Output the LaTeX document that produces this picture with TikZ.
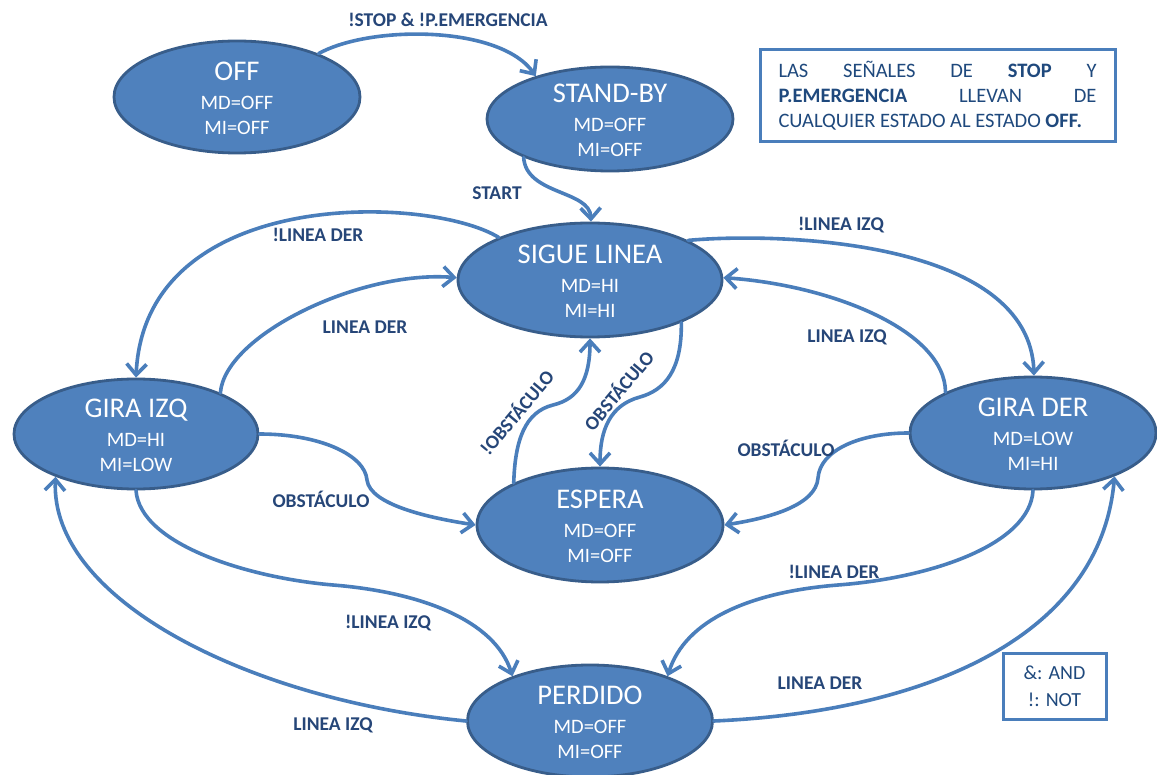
\documentclass[tikz,border=0pt]{standalone}
\usepackage{fontspec}
\setmainfont{Carlito}
\usetikzlibrary{shapes.geometric,arrows.meta}
\definecolor{nodefill}{RGB}{79,129,189}
\definecolor{nodeedge}{RGB}{56,93,138}
\definecolor{wire}{RGB}{74,126,187}
\definecolor{lbltext}{RGB}{38,70,120}
\definecolor{boxtext}{RGB}{31,73,125}
% state body: big title plus the two motor lines, smashed so the ellipse keeps its size
\newcommand\statebody[3]{\smash{\raisebox{-10pt}{\begin{tabular}{@{}c@{}}{\fontsize{28.5}{30}\selectfont #1}\\[3.5pt] #2\\ #3\end{tabular}}}}
\begin{document}
\begin{tikzpicture}[x=1pt,y=-1pt,
  state/.style={ellipse, draw=nodeedge, line width=2.8pt, fill=nodefill, text=white,
    inner sep=0pt, minimum width=246pt, minimum height=112pt,
    font=\fontsize{20.5}{25}\selectfont},
  trans/.style={draw=wire, line width=3.6pt, line cap=round,
    -{Straight Barb[length=11pt,width=20pt]}},
  lbl/.style={text=lbltext, font=\fontsize{19.5}{22}\selectfont\bfseries, inner sep=1pt},
  rotlbl/.style={lbl, rotate=50},
  infobox/.style={draw=wire, line width=3pt, text=boxtext, inner sep=0pt},
]
\useasboundingbox[fill=white] (0,0) rectangle (1157,775);

% states
\node[state] (off)      at (237,97)  {\statebody{OFF}{MD=OFF}{MI=OFF}};
\node[state, minimum height=104pt] (standby) at (610,119) {\statebody{STAND-BY}{MD=OFF}{MI=OFF}};
\node[state, minimum width=264pt, minimum height=114pt] (sigue) at (590,280) {\statebody{SIGUE LINEA}{MD=HI}{MI=HI}};
\node[state, minimum width=244pt, minimum height=110pt] (giraizq) at (136,434) {\statebody{GIRA IZQ}{MD=HI}{MI=LOW}};
\node[state] (girader)  at (1033,433) {\statebody{GIRA DER}{MD=LOW}{MI=HI}};
\node[state, minimum height=114pt] (espera) at (600,525) {\statebody{ESPERA}{MD=OFF}{MI=OFF}};
\node[state, minimum width=245pt] (perdido) at (590,721) {\statebody{PERDIDO}{MD=OFF}{MI=OFF}};

% transitions
\draw[trans] (off.28) .. controls (370,25) and (500,25) .. (standby.150);
\draw[trans] (standby.204) .. controls (526,195) and (590,190) .. (sigue.89);
\draw[trans] (sigue.155) .. controls (430,195) and (145,185) .. (giraizq.90);
\draw[trans] (giraizq.26) .. controls (225,335) and (360,270) .. (sigue.179);
\draw[trans] (sigue.22) .. controls (780,232) and (1030,240) .. (girader.89);
\draw[trans] (girader.155) .. controls (945,330) and (830,285) .. (sigue.1);
\draw[trans] (giraizq.0) .. controls (320,434) and (365,455) .. (367,480)
  .. controls (370,505) and (430,518) .. (espera.180);
\draw[trans] (girader.180) .. controls (860,433) and (820,450) .. (818,478)
  .. controls (816,505) and (770,518) .. (espera.0);
\draw[trans] (sigue.-25) .. controls (682,370) and (665,390) .. (640,397)
  .. controls (610,405) and (600,430) .. (espera.90);
\draw[trans] (espera.154) .. controls (515,440) and (525,412) .. (553,405)
  .. controls (578,399) and (590,380) .. (sigue.270);
\draw[trans] (giraizq.270) .. controls (140,545) and (250,578) .. (333,585)
  .. controls (420,592) and (495,620) .. (perdido.150);
\draw[trans] (girader.270) .. controls (1030,545) and (930,578) .. (838,585)
  .. controls (750,592) and (685,620) .. (perdido.30);
\draw[trans] (perdido.180) .. controls (250,700) and (50,600) .. (giraizq.208);
\draw[trans] (perdido.0) .. controls (920,712) and (1100,640) .. (girader.332);

% transition labels
\node[lbl] (l-arm)    at (448,20)  {!STOP \& !P.EMERGENCIA};
\node[lbl] (l-start)  at (497,193) {START};
\node[lbl] (l-nld1)   at (318,235) {!LINEA DER};
\node[lbl] (l-ld1)    at (365,327) {LINEA DER};
\node[lbl] (l-nli1)   at (841,225) {!LINEA IZQ};
\node[lbl] (l-li1)    at (847,337) {LINEA IZQ};
\node[lbl] (l-obs1)   at (321,499) {OBSTÁCULO};
\node[lbl] (l-obs2)   at (786,448) {OBSTÁCULO};
\node[rotlbl] (l-obs3) at (618,390) {OBSTÁCULO};
\node[rotlbl] (l-nobs) at (516,412) {!OBSTÁCULO};
\node[lbl] (l-nli2)   at (388,623) {!LINEA IZQ};
\node[lbl] (l-li2)    at (333,725) {LINEA IZQ};
\node[lbl] (l-nld2)   at (834,572) {!LINEA DER};
\node[lbl] (l-ld2)    at (820,683) {LINEA DER};

% notes
\node[infobox, minimum width=355pt, minimum height=92pt] (note) at (937.5,96) {%
  \begin{minipage}{318pt}\fontsize{20.5}{25}\selectfont
  LAS SEÑALES DE \textbf{STOP} Y\linebreak
  \textbf{P.EMERGENCIA} LLEVAN DE\linebreak
  CUALQUIER ESTADO AL ESTADO \textbf{OFF.}
  \end{minipage}};
\node[infobox, minimum width=103pt, minimum height=66pt, align=center,
  font=\fontsize{20}{27}\selectfont] (legend) at (1054.5,686) {\&: AND\\!: NOT};
\end{tikzpicture}
\end{document}
